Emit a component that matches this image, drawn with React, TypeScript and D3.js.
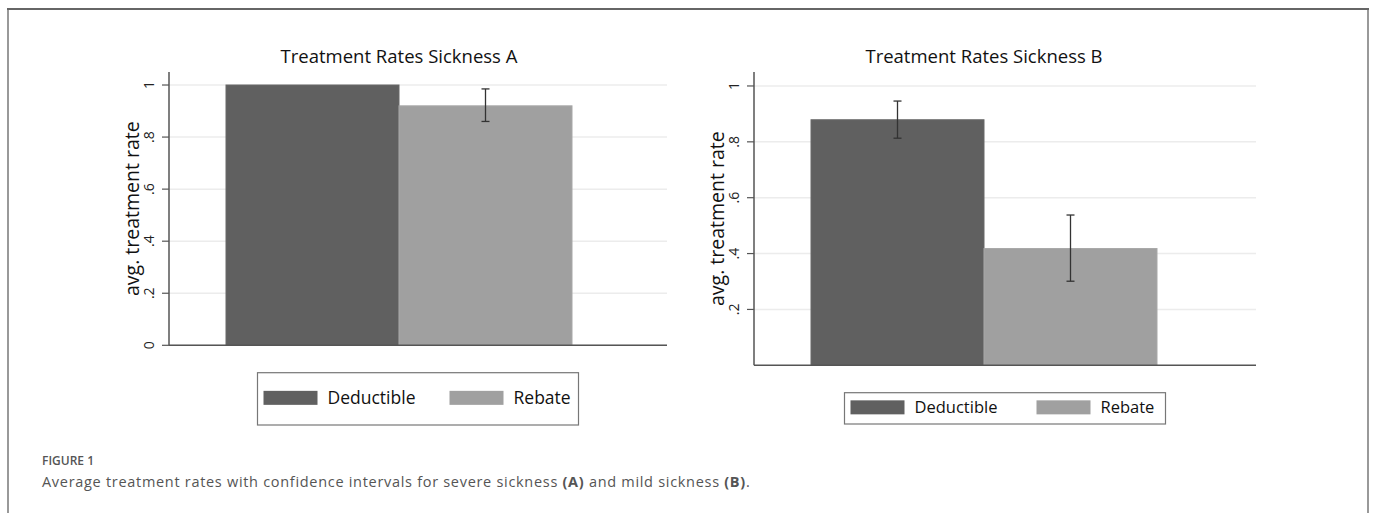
import React from "react";
import * as d3 from "d3";

// chart data
const categories = ["Deductible", "Rebate"];
const colors = ["#606060", "#a0a0a0"];

const meansA = [1.0, 0.92];
const lowA = [null, 0.86];
const highA = [null, 0.985];

const meansB = [0.879, 0.418];
const lowB = [0.813, 0.301];
const highB = [0.946, 0.538];

const ticksA = [0, 0.2, 0.4, 0.6, 0.8, 1];
const ticksB = [0.2, 0.4, 0.6, 0.8, 1];
const tickLabel = (v: number) => (v === 0 ? "0" : v === 1 ? "1" : d3.format(".1f")(v).replace(/^0/, ""));

const FONT = "'Open Sans', 'DejaVu Sans', sans-serif";

type PanelProps = {
  title: string;
  means: number[];
  lows: (number | null)[];
  highs: (number | null)[];
  ticks: number[];
  axisX: number;
  plotRight: number;
  bottom: number;
  legendY: number;
  legendH: number;
  legendFont: number;
};

const Panel = ({ title, means, lows, highs, ticks, axisX, plotRight, bottom, legendY, legendH, legendFont }: PanelProps) => {
  const top = 72;
  const y = d3.scaleLinear().domain([0, 1.05]).range([bottom, top]);
  const x = d3
    .scaleBand()
    .domain(categories)
    .range([axisX + 57, axisX + 57 + 346])
    .padding(0);
  const barCenter = axisX + 57 + 173;
  const plotMid = (top + bottom) / 2;

  // legend layout
  const legW = 321;
  const legX = (axisX + plotRight) / 2 - legW / 2;
  const swH = 14;
  const swY = legendY + legendH / 2 - swH / 2 - 1;

  return (
    <g>
      <text x={barCenter} y={63} textAnchor="middle" fontSize={18.5} fill="#111" fontFamily={FONT}>
        {title}
      </text>

      {/* gridlines */}
      {ticks.map((t) => (
        <line key={"g" + t} x1={axisX} x2={plotRight} y1={y(t)} y2={y(t)} stroke="#ececec" strokeWidth={1.5} />
      ))}

      {/* bars */}
      {categories.map((c, i) => (
        <rect
          key={c}
          x={x(c)}
          y={y(means[i])}
          width={x.bandwidth()}
          height={bottom - y(means[i])}
          fill={colors[i]}
          stroke={i === 0 ? "#686868" : "#a8a8a8"}
          strokeWidth={1}
        />
      ))}

      {/* error bars */}
      {categories.map((c, i) => {
        const lo = lows[i];
        const hi = highs[i];
        if (lo == null || hi == null) return null;
        const cx = (x(c) as number) + x.bandwidth() / 2;
        return (
          <g key={"e" + c} stroke="#333" strokeWidth={1.3}>
            <line x1={cx} x2={cx} y1={y(lo)} y2={y(hi)} />
            <line x1={cx - 4} x2={cx + 4} y1={y(lo)} y2={y(lo)} />
            <line x1={cx - 4} x2={cx + 4} y1={y(hi)} y2={y(hi)} />
          </g>
        );
      })}

      {/* axes */}
      <line x1={axisX} x2={axisX} y1={top} y2={bottom} stroke="#555" strokeWidth={1.5} />
      <line x1={axisX} x2={plotRight} y1={bottom} y2={bottom} stroke="#555" strokeWidth={1.5} />
      {ticks.map((t) => (
        <g key={"t" + t}>
          <line x1={axisX - 7} x2={axisX} y1={y(t)} y2={y(t)} stroke="#555" strokeWidth={1.2} />
          <text
            x={axisX - 15}
            y={y(t)}
            transform={`rotate(-90, ${axisX - 15}, ${y(t)})`}
            textAnchor="middle"
            fontSize={14}
            fill="#222"
            fontFamily={FONT}
          >
            {tickLabel(t)}
          </text>
        </g>
      ))}
      <text
        x={axisX - 30}
        y={plotMid}
        transform={`rotate(-90, ${axisX - 30}, ${plotMid})`}
        textAnchor="middle"
        fontSize={19.5}
        fill="#111"
        fontFamily={FONT}
      >
        avg. treatment rate
      </text>

      {/* legend */}
      <rect x={legX} y={legendY} width={legW} height={legendH} fill="#fff" stroke="#777" strokeWidth={1.2} />
      {categories.map((c, i) => {
        const sx = legX + 6 + i * 186;
        return (
          <g key={"l" + c}>
            <rect x={sx} y={swY} width={54} height={swH} fill={colors[i]} />
            <text x={sx + 64} y={swY + swH / 2 + legendFont * 0.36} fontSize={legendFont} fill="#111" fontFamily={FONT}>
              {c}
            </text>
          </g>
        );
      })}
    </g>
  );
};

const App = () => {
  return (
    <svg width={1373} height={513} style={{ position: "absolute", left: 0, top: 0, background: "#fff" }}>
      {/* frame */}
      <line x1={8} x2={8} y1={9} y2={513} stroke="#999" strokeWidth={2} />
      <line x1={1368} x2={1368} y1={9} y2={513} stroke="#999" strokeWidth={2} />
      <line x1={7} x2={1369} y1={9} y2={9} stroke="#666" strokeWidth={2} />

      <Panel
        title="Treatment Rates Sickness A"
        means={meansA}
        lows={lowA}
        highs={highA}
        ticks={ticksA}
        axisX={169}
        plotRight={667}
        bottom={345.3}
        legendY={372.7}
        legendH={52.3}
        legendFont={17.5}
      />
      <Panel
        title="Treatment Rates Sickness B"
        means={meansB}
        lows={lowB}
        highs={highB}
        ticks={ticksB}
        axisX={754}
        plotRight={1256}
        bottom={365.3}
        legendY={392.7}
        legendH={31.3}
        legendFont={16.5}
      />

      {/* caption */}
      <text x={42} y={465} fontSize={12} fontWeight={600} fill="#555" fontFamily={FONT}>
        FIGURE 1
      </text>
      <text x={42} y={487} fontSize={14.5} fill="#555" fontFamily={FONT} letterSpacing={0.7}>
        Average treatment rates with confidence intervals for severe sickness{" "}
        <tspan fontWeight={700}>(A)</tspan> and mild sickness <tspan fontWeight={700}>(B)</tspan>.
      </text>
    </svg>
  );
};

export default App;
